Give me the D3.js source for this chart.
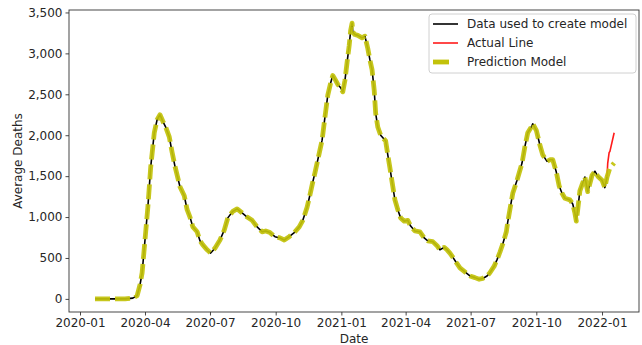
<!DOCTYPE html>
<html>
<head>
<meta charset="utf-8">
<script src="https://cdn.jsdelivr.net/npm/d3@7/dist/d3.min.js"></script>
<style>
  html, body { margin: 0; padding: 0; background: #fff; }
  svg { display: block; font-family: "DejaVu Sans", sans-serif; }
</style>
</head>
<body>
<svg id="chart" width="642" height="345"></svg>
<script>
// Daily average deaths used to fit the model (sampled dates)
const trainDates = [
  "2020-01-22","2020-02-12","2020-03-04","2020-03-15","2020-03-21","2020-03-25","2020-03-28","2020-04-01",
  "2020-04-05","2020-04-09","2020-04-14","2020-04-18","2020-04-22","2020-04-26","2020-04-30","2020-05-05",
  "2020-05-09","2020-05-13","2020-05-20","2020-05-26","2020-05-30","2020-06-03","2020-06-07","2020-06-13",
  "2020-06-17","2020-06-21","2020-06-27","2020-07-02","2020-07-08","2020-07-15","2020-07-21","2020-07-26",
  "2020-08-02","2020-08-08","2020-08-15","2020-08-22","2020-08-29","2020-09-05","2020-09-12","2020-09-17",
  "2020-09-23","2020-09-30","2020-10-07","2020-10-13","2020-10-20","2020-10-27","2020-11-03","2020-11-08",
  "2020-11-14","2020-11-18","2020-11-22","2020-11-25","2020-11-29","2020-12-05","2020-12-09","2020-12-13",
  "2020-12-17","2020-12-20","2020-12-24","2020-12-27","2020-12-31","2021-01-03","2021-01-06","2021-01-09",
  "2021-01-12","2021-01-14","2021-01-16","2021-01-17","2021-01-20","2021-01-24","2021-01-30","2021-02-03",
  "2021-02-07","2021-02-10","2021-02-13","2021-02-16","2021-02-18","2021-02-21","2021-02-25","2021-03-02",
  "2021-03-04","2021-03-07","2021-03-10","2021-03-13","2021-03-17","2021-03-21","2021-03-25","2021-03-30",
  "2021-04-04","2021-04-08","2021-04-14","2021-04-21","2021-04-27","2021-05-02","2021-05-09","2021-05-15",
  "2021-05-19","2021-05-25","2021-05-29","2021-06-02","2021-06-06","2021-06-12","2021-06-16","2021-06-23",
  "2021-06-30","2021-07-07","2021-07-13","2021-07-18","2021-07-24","2021-07-28","2021-08-03","2021-08-07",
  "2021-08-11","2021-08-15","2021-08-20","2021-08-22","2021-08-25","2021-08-29","2021-09-04","2021-09-11",
  "2021-09-15","2021-09-19","2021-09-24","2021-09-26","2021-10-01","2021-10-06","2021-10-10","2021-10-16",
  "2021-10-20","2021-10-24","2021-10-29","2021-11-02","2021-11-06","2021-11-10","2021-11-17","2021-11-21",
  "2021-11-24","2021-11-26","2021-11-28","2021-12-01","2021-12-08","2021-12-12","2021-12-18","2021-12-22",
  "2021-12-26","2022-01-01","2022-01-05","2022-01-08"
];
const trainDeaths = [
  0,0,0,10,40,170,320,720,
  1120,1610,2030,2190,2250,2170,2100,1980,
  1790,1620,1370,1260,1090,1000,880,820,
  710,660,600,560,620,720,840,990,
  1070,1100,1050,1000,960,880,820,830,
  810,760,745,720,760,810,880,960,
  1120,1270,1430,1540,1700,1940,2220,2490,
  2640,2730,2670,2620,2580,2530,2670,2890,
  3100,3280,3370,3260,3230,3220,3190,3210,
  3060,2920,2800,2550,2270,2100,2000,1950,
  1930,1760,1600,1430,1210,1090,990,950,
  960,890,830,820,745,710,700,650,
  600,630,600,560,510,430,380,330,
  280,260,240,250,280,320,400,480,
  570,670,820,940,1090,1290,1450,1660,
  1860,2030,2100,2140,2060,1880,1760,1680,
  1700,1700,1550,1380,1290,1230,1210,1160,
  1050,950,1090,1320,1490,1310,1510,1560,
  1500,1450,1360,1490
];

// Observed values after the training window
const actualDates = ["2022-01-08","2022-01-09","2022-01-11","2022-01-12","2022-01-18"];
const actualDeaths = [1490, 1660, 1790, 1800, 2030];

// Model forecast beyond the training window
const forecastDates = ["2022-01-12","2022-01-18"];
const forecastDeaths = [1600, 1660];

const xTickDates = ["2020-01-01","2020-04-01","2020-07-01","2020-10-01","2021-01-01",
                    "2021-04-01","2021-07-01","2021-10-01","2022-01-01"];
const yTickValues = [0, 500, 1000, 1500, 2000, 2500, 3000, 3500];

const legendLabels = ["Data used to create model", "Actual Line", "Prediction Model"];

const parse = d3.utcParse("%Y-%m-%d");
const zip = (ds, vs) => ds.map((d, i) => ({ date: parse(d), value: vs[i] }));

const train = zip(trainDates, trainDeaths);
const actual = zip(actualDates, actualDeaths);
const prediction = train.concat(zip(forecastDates, forecastDeaths));

const plot = { left: 69, right: 639, top: 10, bottom: 312 };

const x = d3.scaleUtc()
  .domain([d3.utcHour.offset(parse("2019-12-16"), 14), d3.utcHour.offset(parse("2022-02-21"), 19)])
  .range([plot.left, plot.right]);
const y = d3.scaleLinear()
  .domain([-160, 3530])
  .range([plot.bottom, plot.top]);

const svg = d3.select("#chart");
const textColor = "#262626";
const yellow = "#c2c20a";
const dash = "15,5";

// Axes
const xAxis = d3.axisBottom(x)
  .tickValues(xTickDates.map(parse))
  .tickFormat(d3.utcFormat("%Y-%m"))
  .tickSizeOuter(0).tickSize(3.5).tickPadding(3);
const yAxis = d3.axisLeft(y)
  .tickValues(yTickValues)
  .tickFormat(d3.format(","))
  .tickSizeOuter(0).tickSize(3.5).tickPadding(3);

const gx = svg.append("g").attr("transform", `translate(0,${plot.bottom})`).call(xAxis);
const gy = svg.append("g").attr("transform", `translate(${plot.left},0)`).call(yAxis);
[gx, gy].forEach(g => {
  g.select(".domain").remove();
  g.selectAll(".tick line").attr("stroke", "#333").attr("stroke-width", 0.9);
  g.selectAll(".tick text").attr("fill", textColor).style("font-size", "12px")
    .style("font-family", "'DejaVu Sans', sans-serif");
});

// Lines
const line = d3.line().x(d => x(d.date)).y(d => y(d.value));

svg.append("path").datum(train)
  .attr("d", line).attr("fill", "none")
  .attr("stroke", "#000").attr("stroke-width", 1.6).attr("stroke-linejoin", "round");

svg.append("path").datum(actual)
  .attr("d", line).attr("fill", "none")
  .attr("stroke", "#ff1a1a").attr("stroke-width", 1.6).attr("stroke-linejoin", "round");

svg.append("path").datum(prediction)
  .attr("d", line).attr("fill", "none")
  .attr("stroke", yellow).attr("stroke-width", 4.8)
  .attr("stroke-dasharray", dash).attr("stroke-linejoin", "round").attr("stroke-opacity", 0.92);

// Frame
svg.append("rect")
  .attr("x", plot.left).attr("y", plot.top)
  .attr("width", plot.right - plot.left).attr("height", plot.bottom - plot.top)
  .attr("fill", "none").attr("stroke", "#333").attr("stroke-width", 0.9);

// Axis titles
svg.append("text")
  .attr("x", (plot.left + plot.right) / 2).attr("y", 343)
  .attr("text-anchor", "middle").attr("fill", textColor).style("font-size", "12px")
  .text("Date");
svg.append("text")
  .attr("transform", `translate(22,${(plot.top + plot.bottom) / 2}) rotate(-90)`)
  .attr("text-anchor", "middle").attr("fill", textColor).style("font-size", "12px")
  .text("Average Deaths");

// Legend
const legend = svg.append("g").attr("transform", "translate(429,14)");
legend.append("rect")
  .attr("width", 207).attr("height", 59).attr("rx", 3)
  .attr("fill", "#fff").attr("fill-opacity", 0.8)
  .attr("stroke", "#d0d0d0").attr("stroke-width", 1);

const legendStyles = [
  { stroke: "#000", width: 1.6, dash: null },
  { stroke: "#ff1a1a", width: 1.6, dash: null },
  { stroke: yellow, width: 4.8, dash: "16,20" }
];
legendLabels.forEach((label, i) => {
  const row = legend.append("g").attr("transform", `translate(0,${10 + i * 19})`);
  const s = legendStyles[i];
  row.append("line")
    .attr("x1", 4).attr("x2", 29).attr("y1", 0).attr("y2", 0)
    .attr("stroke", s.stroke).attr("stroke-width", s.width)
    .attr("stroke-dasharray", s.dash);
  row.append("text")
    .attr("x", 38).attr("y", 0).attr("dy", "0.35em")
    .attr("fill", textColor).style("font-size", "12px")
    .text(label);
});
</script>
</body>
</html>
